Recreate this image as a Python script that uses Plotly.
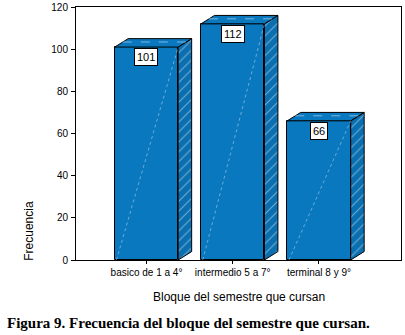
import plotly.graph_objects as go

categories = ["basico de 1 a 4°", "intermedio 5 a 7°", "terminal 8 y 9°"]
values = [101, 112, 66]
y_ticks = [0, 20, 40, 60, 80, 100, 120]

BLUE = "#0a78be"
SIDE = "#0a6fb0"
W = 0.736   # bar width (x units)
DX = 0.156  # depth x (x units)
DY = 4.0    # depth y (y units)

fig = go.Figure()
xs = list(range(len(categories)))

# front faces
fig.add_trace(go.Bar(x=xs, y=values, width=W, marker=dict(color=BLUE, line=dict(color="black", width=1)),
                     hoverinfo="skip", showlegend=False))

for i, v in zip(xs, values):
    x0 = i - W / 2
    x1 = i + W / 2
    # side face
    fig.add_trace(go.Scatter(x=[x1, x1 + DX, x1 + DX, x1, x1], y=[0, DY, v + DY, v, 0],
                             mode="lines", fill="toself", fillcolor=SIDE,
                             fillpattern=dict(shape="/", fgcolor="rgba(255,255,255,0.85)", bgcolor=SIDE, size=7, solidity=0.15),
                             line=dict(color="black", width=1), showlegend=False, hoverinfo="skip"))
    # top face
    fig.add_trace(go.Scatter(x=[x0, x0 + DX, x1 + DX, x1, x0], y=[v, v + DY, v + DY, v, v],
                             mode="lines", fill="toself", fillcolor=BLUE,
                             line=dict(color="black", width=1), showlegend=False, hoverinfo="skip"))
    # faint dashed highlights
    fig.add_trace(go.Scatter(x=[x0 + 0.02, x1], y=[0, v], mode="lines",
                             line=dict(color="rgba(200,225,245,0.5)", width=1, dash="dot"),
                             showlegend=False, hoverinfo="skip"))
    fig.add_trace(go.Scatter(x=[x0 + DX * 0.6, x1 + DX * 0.6], y=[v + DY * 0.6, v + DY * 0.6], mode="lines",
                             line=dict(color="rgba(200,225,245,0.6)", width=1, dash="dash"),
                             showlegend=False, hoverinfo="skip"))
    fig.add_annotation(x=i, y=v, yref="y", xref="x", text=str(v), showarrow=False,
                       yanchor="top", yshift=-1, bgcolor="white", bordercolor="black", borderwidth=1,
                       borderpad=2, font=dict(family="Liberation Sans, Arial", size=11, color="black"))

fig.update_xaxes(range=[-0.817, 2.951], tickvals=xs, ticktext=categories, showgrid=False, zeroline=False,
                 showline=True, linecolor="black", linewidth=1, mirror=True, automargin=False,
                 ticks="outside", ticklen=3, tickcolor="black",
                 tickfont=dict(family="Liberation Sans, Arial", size=10, color="black"))
fig.update_yaxes(range=[0, 120], tickvals=y_ticks, showgrid=False, zeroline=False,
                 showline=True, linecolor="black", linewidth=1, mirror=True, automargin=False,
                 ticks="outside", ticklen=4, tickcolor="black", ticklabelstandoff=1,
                 tickfont=dict(family="Liberation Sans, Arial", size=10, color="black"))

fig.add_annotation(xref="paper", yref="paper", x=-0.145, y=0.115, xanchor="center", yanchor="middle",
                   text="Frecuencia", textangle=-90,
                   showarrow=False, font=dict(family="Liberation Sans, Arial", size=12, color="black"))
fig.add_annotation(xref="paper", yref="paper", x=0.5, y=-0.145, xanchor="center", yanchor="middle",
                   text="Bloque del semestre que cursan",
                   showarrow=False, font=dict(family="Liberation Sans, Arial", size=12, color="black"))
fig.add_annotation(xref="paper", yref="paper", x=-0.22, xanchor="left", y=-0.25, yanchor="middle",
                   text="<b>Figura 9. Frecuencia del bloque del semestre que cursan.</b>",
                   showarrow=False, font=dict(family="Liberation Serif, Times New Roman", size=15, color="black"))

fig.update_layout(width=405, height=335, margin=dict(l=76, r=4, t=7, b=75, autoexpand=False),
                  plot_bgcolor="white", paper_bgcolor="white", bargap=0)

fig.write_html("out.html", config={"displayModeBar": False},
               post_script="document.body.style.margin='0';document.body.style.overflow='hidden';")
